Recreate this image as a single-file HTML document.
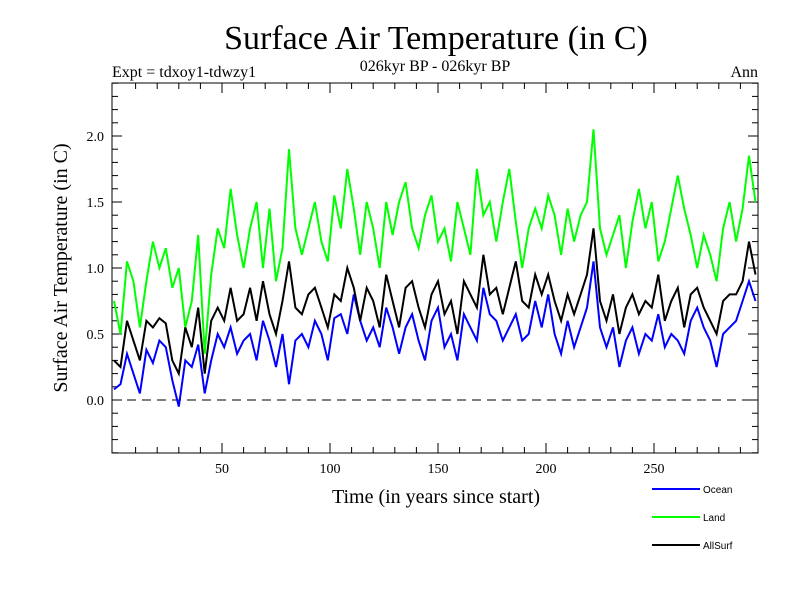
<!DOCTYPE html>
<html><head><meta charset="utf-8"><style>
body{margin:0;background:#fff}
svg{display:block}
</style></head><body>
<svg id="chart" width="800" height="600" font-family="Liberation Serif, serif">
<rect width="800" height="600" fill="#fff"/>
<text x="436" y="49" font-size="34" text-anchor="middle">Surface Air Temperature (in C)</text>
<text x="112" y="77" font-size="16">Expt = tdxoy1-tdwzy1</text>
<text x="435" y="71" font-size="16" text-anchor="middle">026kyr BP - 026kyr BP</text>
<text x="758" y="77" font-size="16" text-anchor="end">Ann</text>
<text x="436" y="503" font-size="20" text-anchor="middle">Time (in years since start)</text>
<text transform="translate(67,268) rotate(-90)" font-size="20" text-anchor="middle">Surface Air Temperature (in C)</text>
<g id="axes"></g>
<g id="series"></g>
<g id="legend" font-family="Liberation Sans, sans-serif" font-size="10"></g>
</svg>
<script>
const years0 = 0, yearStep = 3;
const yTicks = [0.0, 0.5, 1.0, 1.5, 2.0];
const xTicks = [50, 100, 150, 200, 250];
const seriesNames = ['Ocean', 'Land', 'AllSurf'];
const ocean = [0.08,0.12,0.35,0.2,0.05,0.38,0.28,0.45,0.4,0.15,
 -0.05,0.3,0.25,0.42,0.05,0.3,0.5,0.4,0.55,0.35,
 0.45,0.5,0.3,0.6,0.45,0.25,0.5,0.12,0.45,0.5,
 0.4,0.6,0.5,0.3,0.62,0.65,0.5,0.8,0.6,0.45,
 0.55,0.4,0.7,0.55,0.35,0.55,0.65,0.45,0.3,0.6,
 0.7,0.4,0.5,0.3,0.65,0.55,0.45,0.85,0.65,0.6,
 0.45,0.55,0.65,0.45,0.5,0.75,0.55,0.8,0.5,0.35,
 0.6,0.4,0.55,0.7,1.05,0.55,0.4,0.55,0.25,0.45,
 0.55,0.35,0.5,0.45,0.65,0.4,0.5,0.45,0.35,0.6,
 0.7,0.55,0.45,0.25,0.5,0.55,0.6,0.75,0.9,0.75];
const land = [0.75,0.5,1.05,0.9,0.55,0.9,1.2,1.0,1.15,0.85,
 1.0,0.55,0.75,1.25,0.35,0.95,1.3,1.15,1.6,1.25,
 1.0,1.3,1.5,1.0,1.45,0.9,1.15,1.9,1.3,1.1,
 1.3,1.5,1.2,1.05,1.55,1.3,1.75,1.45,1.1,1.5,
 1.3,1.0,1.5,1.25,1.5,1.65,1.3,1.15,1.4,1.55,
 1.2,1.3,1.05,1.5,1.3,1.1,1.75,1.4,1.5,1.2,
 1.5,1.75,1.35,1.0,1.3,1.45,1.3,1.55,1.4,1.1,
 1.45,1.2,1.4,1.5,2.05,1.3,1.1,1.25,1.4,1.0,
 1.35,1.6,1.3,1.5,1.05,1.2,1.45,1.7,1.45,1.25,
 1.0,1.25,1.1,0.9,1.3,1.5,1.2,1.45,1.85,1.5];
const allSurf = [0.3,0.25,0.6,0.45,0.3,0.6,0.55,0.62,0.58,0.3,
 0.2,0.55,0.4,0.7,0.2,0.6,0.7,0.6,0.85,0.6,
 0.65,0.85,0.6,0.9,0.65,0.5,0.75,1.05,0.7,0.65,
 0.8,0.85,0.7,0.55,0.8,0.75,1.0,0.85,0.6,0.85,
 0.75,0.55,0.95,0.75,0.55,0.85,0.9,0.7,0.55,0.8,
 0.9,0.65,0.75,0.5,0.9,0.8,0.7,1.1,0.8,0.85,
 0.65,0.85,1.05,0.75,0.7,0.95,0.8,0.95,0.75,0.6,
 0.8,0.65,0.8,0.95,1.3,0.75,0.6,0.8,0.5,0.7,
 0.8,0.65,0.75,0.7,0.95,0.6,0.75,0.85,0.55,0.8,
 0.85,0.7,0.6,0.5,0.75,0.8,0.8,0.9,1.2,0.95];

const NS='http://www.w3.org/2000/svg';
const L=112,R=758,T=83,B=453;
function xs(yr){return 222+(yr-50)*2.16;}
function ys(v){return 400-v*132;}
function mk(tag,attrs,parent){const e=document.createElementNS(NS,tag);for(const k in attrs)e.setAttribute(k,attrs[k]);parent.appendChild(e);return e;}
const axes=document.getElementById('axes');
const frame=mk('rect',{x:L,y:T,width:R-L,height:B-T,fill:'none',stroke:'#000','stroke-width':1},axes);


const zl=mk('line',{x1:L,x2:R,y1:ys(0),y2:ys(0),stroke:'#000','stroke-dasharray':'9,6'},axes);


for(let v=-0.4;v<=2.41;v+=0.1){const y=ys(v);const major=Math.abs(v*2-Math.round(v*2))<1e-6;const len=major?10:6;
 mk('line',{x1:L,x2:L+len,y1:y,y2:y,stroke:'#000'},axes);mk('line',{x1:R-len,x2:R,y1:y,y2:y,stroke:'#000'},axes);}
yTicks.forEach(v=>{const t=mk('text',{x:L-8,y:ys(v)+5,'font-size':14,'text-anchor':'end'},axes);t.textContent=v.toFixed(1);
 
 });
for(let yr=10;yr<=290;yr+=10){const x=xs(yr);const len=yr%50===0?10:6;
 mk('line',{x1:x,x2:x,y1:B,y2:B-len,stroke:'#000'},axes);mk('line',{x1:x,x2:x,y1:T,y2:T+len,stroke:'#000'},axes);}
xTicks.forEach(yr=>{const t=mk('text',{x:xs(yr),y:B+20,'font-size':14,'text-anchor':'middle'},axes);t.textContent=yr;
 
 });
const sg=document.getElementById('series');
const colors=['#0000ff','#00ff00','#000000'];
[ocean,land,allSurf].forEach((arr,i)=>{
 const pts=arr.map((v,j)=>xs(years0+j*yearStep).toFixed(1)+','+ys(v).toFixed(1)).join(' ');
 const p=mk('polyline',{points:pts,fill:'none',stroke:colors[i],'stroke-width':2},sg);
 
 
});
const lg=document.getElementById('legend');
seriesNames.forEach((n,i)=>{const y=489+i*28;
 const ln=mk('line',{x1:652,x2:700,y1:y,y2:y,stroke:colors[i],'stroke-width':2},lg);
 
 
 const t=mk('text',{x:703,y:y+4},lg);t.textContent=n;
 
 });
</script>
</body></html>
